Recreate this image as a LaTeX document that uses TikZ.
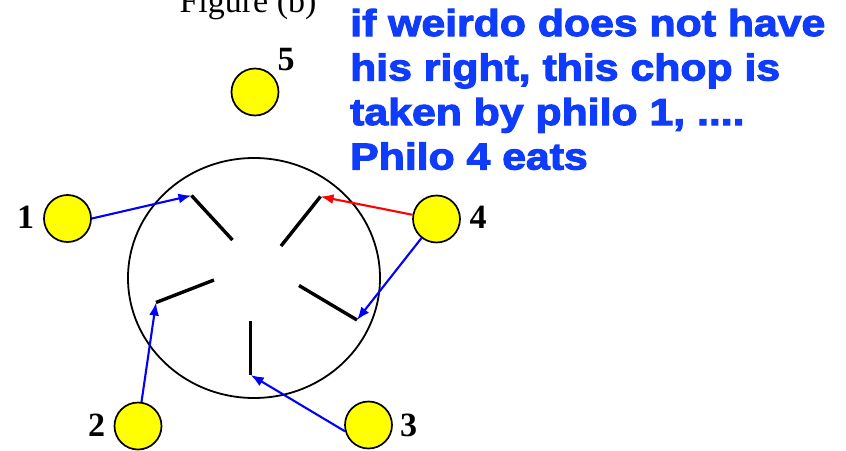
\documentclass[tikz,border=0pt]{standalone}
\usepackage{fontspec}
\setmainfont{Liberation Serif}
\newfontfamily\notefont[FakeBold=3,FakeStretch=1.14]{Liberation Sans Bold}
\usetikzlibrary{arrows.meta}
\definecolor{noteblue}{RGB}{15,60,250}
\definecolor{philoyellow}{RGB}{255,255,0}
\begin{document}
\begin{tikzpicture}[x=1pt,y=-1pt,
  philo/.style={circle,draw=black,line width=1.7pt,fill=philoyellow,minimum size=47pt,inner sep=0pt},
  num/.style={inner sep=0pt,font=\fontsize{34}{34}\selectfont\bfseries},
  chopstick/.style={line width=3.4pt,black},
  grab/.style={line width=2.1pt,-{Latex[length=13pt,width=10pt]}},
  note/.style={inner sep=0pt,anchor=base west,text=noteblue,font=\notefont\fontsize{37.5}{37.5}\selectfont}]
\useasboundingbox (0,0) rectangle (846,450);
\clip (0,0) rectangle (846,450);
\fill[white] (0,0) rectangle (846,450);
% title
\node[inner sep=0pt,anchor=base,font=\fontsize{34}{34}\selectfont] (title) at (248,12) {Figure (b)};
% table
\draw[line width=1.8pt] (254,278) ellipse [x radius=126, y radius=120];
\node[draw=none,inner sep=0pt] (table) at (254,278) {};
% chopsticks
\coordinate (c1a) at (191.5,195.5); \coordinate (c1b) at (232.5,240);
\coordinate (c4a) at (320.5,196.5); \coordinate (c4b) at (281,246);
\coordinate (c2a) at (156,302.5);   \coordinate (c2b) at (214,280);
\coordinate (c3a) at (357,320);     \coordinate (c3b) at (299,285.5);
\coordinate (c5a) at (250.7,375);   \coordinate (c5b) at (250.7,320.5);
\draw[chopstick] (c1a) -- (c1b);
\draw[chopstick] (c4a) -- (c4b);
\draw[chopstick] (c2a) -- (c2b);
\draw[chopstick] (c3a) -- (c3b);
\draw[chopstick] (c5a) -- (c5b);
% philosophers
\node[philo] (p5) at (255,92) {};
\node[philo] (p1) at (67.5,218.5) {};
\node[philo] (p4) at (436.5,219) {};
\node[philo] (p2) at (138,426) {};
\node[philo] (p3) at (368.5,425) {};
\node[num] (l5) at (286,59.5) {5};
\node[num] (l1) at (25.5,217.5) {1};
\node[num] (l4) at (478,217.5) {4};
\node[num] (l2) at (96.5,425.5) {2};
\node[num] (l3) at (408.5,425.5) {3};
% arrows
\draw[grab,blue] (p1.east) -- (c1a);
\draw[grab,red] (p4.170) -- (c4a);
\draw[grab,blue] (p4) -- (c3a);
\draw[grab,blue] (p2) -- (c2a);
\draw[grab,blue] (p3.195) -- (c5a);
% note
\node[note] (t1) at (350,36) {if weirdo does not have};
\node[note] (t2) at (350,80.5) {his right, this chop is};
\node[note] (t3) at (350,125) {taken by philo 1, ....};
\node[note] (t4) at (350,169.5) {Philo 4 eats};
\end{tikzpicture}
\end{document}
